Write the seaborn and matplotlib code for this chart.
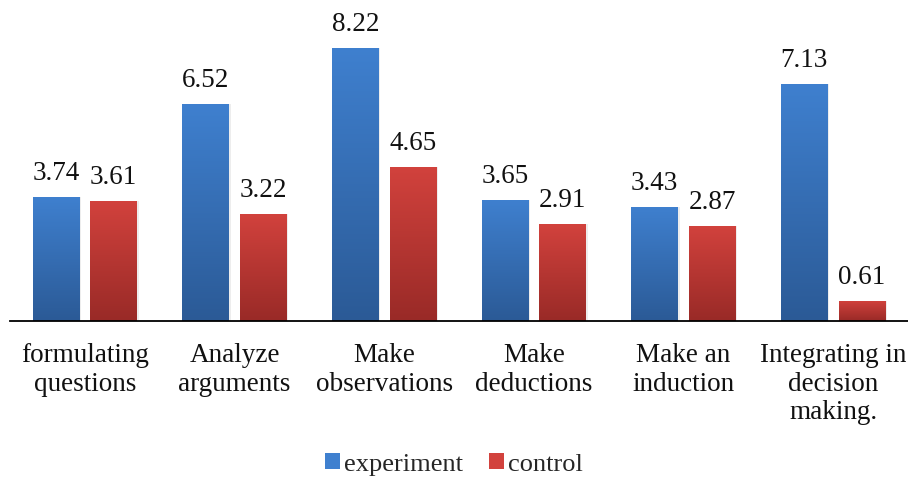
import numpy as np
import pandas as pd
import matplotlib
matplotlib.use("Agg")
import matplotlib.pyplot as plt
import seaborn as sns
from matplotlib.colors import LinearSegmentedColormap
from matplotlib.patches import Rectangle

categories = ["formulating\nquestions", "Analyze\narguments", "Make\nobservations",
              "Make\ndeductions", "Make an\ninduction", "Integrating in\ndecision\nmaking."]
experiment = [3.74, 6.52, 8.22, 3.65, 3.43, 7.13]
control = [3.61, 3.22, 4.65, 2.91, 2.87, 0.61]
series = ["experiment", "control"]

# top / bottom shades of each series' vertical gradient
shades = {"experiment": ("#3f80cf", "#2b5a96"),
          "control": ("#d2423d", "#992a27")}

sns.set_theme(style="white")
plt.rcParams["font.family"] = ["Liberation Serif", "DejaVu Serif"]

df = pd.DataFrame({
    "category": categories * 2,
    "value": experiment + control,
    "series": [series[0]] * len(categories) + [series[1]] * len(categories),
})

fig = plt.figure(figsize=(9.08, 4.78), dpi=100)
ax = fig.add_axes([0.011, 0.328, 0.989, 0.626])

sns.barplot(data=df, x="category", y="value", hue="series", order=categories,
            hue_order=series, palette=[shades[s][0] for s in series],
            width=0.77, gap=0.19, legend=False, ax=ax, saturation=1)

ax.set_ylim(0, 9)
ax.set_xlim(-0.5, len(categories) - 0.5)

# overlay a vertical gradient on every bar, clipped to the bar's shape
grad = np.linspace(0, 1, 256).reshape(-1, 1)
for container, s in zip(ax.containers, series):
    cmap = LinearSegmentedColormap.from_list(s, [shades[s][1], shades[s][0]])
    for bar, val in zip(container.patches, container.datavalues):
        x0, w, h = bar.get_x(), bar.get_width(), bar.get_height()
        bar.set_edgecolor("none")
        # soft shadow to the right of the bar
        ax.add_patch(Rectangle((x0 + 0.012, 0), w, h, facecolor="#000000",
                               alpha=0.07, zorder=1.5, edgecolor="none"))
        im = ax.imshow(grad, aspect="auto", cmap=cmap, origin="lower",
                       extent=(x0, x0 + w, 0, h), zorder=2.5)
        im.set_clip_path(bar)
        ax.annotate(f"{val:.2f}", (x0 + w / 2, h), xytext=(0, 8),
                    textcoords="offset points", ha="center", va="bottom",
                    fontsize=19.5, color="#111111")

ax.set_xlim(-0.5, len(categories) - 0.5)
ax.set_ylim(0, 9)
ax.set_xlabel("")
ax.set_ylabel("")
ax.set_yticks([])
ax.tick_params(axis="x", length=0, pad=16)
for lbl in ax.get_xticklabels():
    lbl.set_fontsize(19.5)
    lbl.set_linespacing(1.18)
    lbl.set_color("#111111")
for side in ["top", "right", "left"]:
    ax.spines[side].set_visible(False)
ax.spines["bottom"].set_color("black")
ax.spines["bottom"].set_linewidth(1.3)

handles = [Rectangle((0, 0), 1, 1, facecolor=shades[s][0], edgecolor="none") for s in series]
fig.legend(handles, series, loc="center", bbox_to_anchor=(0.5, 0.028), ncol=2,
           frameon=False, fontsize=19, handlelength=0.55, handleheight=0.55,
           handletextpad=0.15, columnspacing=1.0)

fig.savefig("out.png", dpi=100)
